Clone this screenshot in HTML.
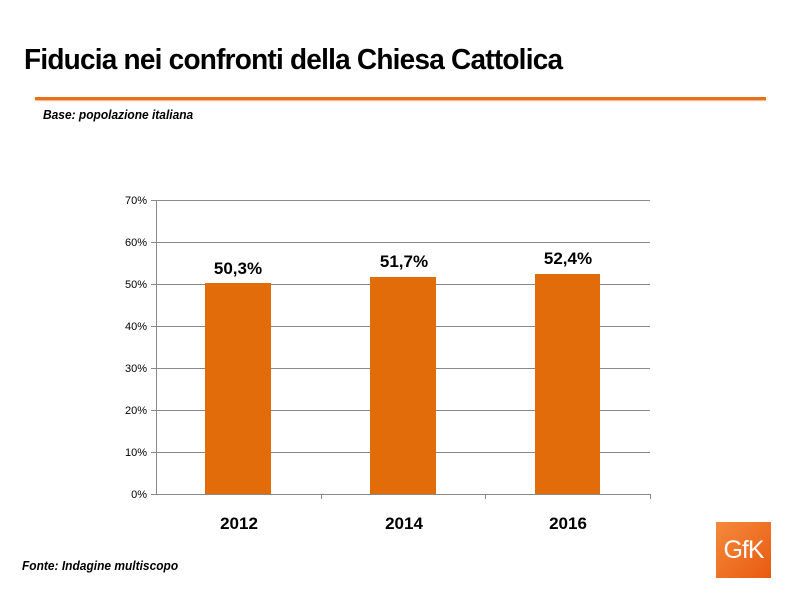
<!DOCTYPE html>
<html><head><style>
body{margin:0;width:800px;height:595px;background:#fff;font-family:"Liberation Sans",sans-serif;position:relative;overflow:hidden}
.t{position:absolute;left:24px;top:44px;font-size:29px;font-weight:bold;color:#000;letter-spacing:-0.8px;transform:scaleX(0.965);transform-origin:left}
.line{position:absolute;left:35px;top:97px;width:731px;height:3px;background:#e8701a;box-shadow:0 1px 1px #f5b080}
.b{position:absolute;left:43px;top:107px;font-size:13px;font-weight:bold;font-style:italic;transform:scaleX(0.92);transform-origin:left}
.f{position:absolute;left:22px;top:558px;font-size:13px;font-weight:bold;font-style:italic;transform:scaleX(0.92);transform-origin:left}
.logo{position:absolute;left:716px;top:522px;width:55px;height:56px;background:linear-gradient(135deg,#f58a3c,#e85a10);color:#fff;font-size:25px;text-align:center;line-height:56px;letter-spacing:-1px}
</style></head><body>
<div class="t">Fiducia nei confronti della Chiesa Cattolica</div>
<div class="line"></div>
<div class="b">Base: popolazione italiana</div>
<svg width="800" height="595" style="position:absolute;left:0;top:0" font-family="Liberation Sans, sans-serif">
<g stroke="#888" stroke-width="1">
<line x1="156" y1="200.5" x2="650" y2="200.5"/><line x1="156" y1="242.5" x2="650" y2="242.5"/>
<line x1="156" y1="284.5" x2="650" y2="284.5"/><line x1="156" y1="326.5" x2="650" y2="326.5"/>
<line x1="156" y1="368.5" x2="650" y2="368.5"/><line x1="156" y1="410.5" x2="650" y2="410.5"/>
<line x1="156" y1="452.5" x2="650" y2="452.5"/><line x1="156" y1="494.5" x2="650" y2="494.5"/>
<line x1="156.5" y1="200" x2="156.5" y2="494"/>
<line x1="151" y1="200.5" x2="156" y2="200.5"/><line x1="151" y1="242.5" x2="156" y2="242.5"/><line x1="151" y1="284.5" x2="156" y2="284.5"/><line x1="151" y1="326.5" x2="156" y2="326.5"/><line x1="151" y1="368.5" x2="156" y2="368.5"/><line x1="151" y1="410.5" x2="156" y2="410.5"/><line x1="151" y1="452.5" x2="156" y2="452.5"/><line x1="151" y1="494.5" x2="156" y2="494.5"/>
<line x1="321.5" y1="494" x2="321.5" y2="499"/><line x1="485.5" y1="494" x2="485.5" y2="499"/><line x1="650.5" y1="494" x2="650.5" y2="499"/>
</g>
<g fill="#e36c0a">
<rect x="205" y="283" width="66" height="211"/>
<rect x="370" y="277" width="66" height="217"/>
<rect x="535" y="274" width="65" height="220"/>
</g>
<g font-size="11" text-anchor="end" fill="#000">
<text x="147" y="204">70%</text><text x="147" y="246">60%</text><text x="147" y="288">50%</text><text x="147" y="330">40%</text><text x="147" y="372">30%</text><text x="147" y="414">20%</text><text x="147" y="456">10%</text><text x="147" y="498">0%</text>
</g>
<g font-size="17" font-weight="bold" text-anchor="middle" fill="#000">
<text x="238" y="274">50,3%</text><text x="404" y="267">51,7%</text><text x="568" y="264">52,4%</text>
<text x="239" y="529">2012</text><text x="404" y="529">2014</text><text x="568" y="529">2016</text>
</g>
</svg>
<div class="f">Fonte: Indagine multiscopo</div>
<div class="logo">GfK</div>
</body></html>
